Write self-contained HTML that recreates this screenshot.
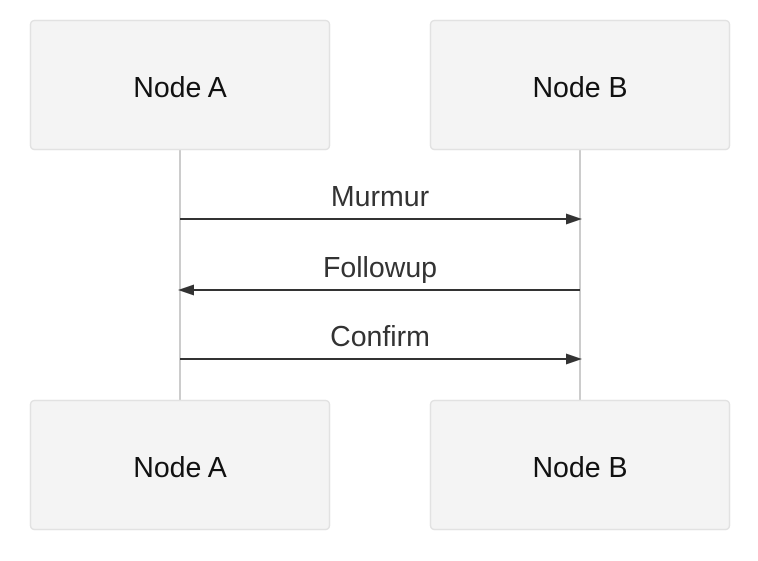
<!DOCTYPE html>
<html><head><meta charset="utf-8"><style>
html,body{margin:0;padding:0;background:#fff;}
</style></head><body>
<svg width="758" height="556" xmlns="http://www.w3.org/2000/svg" font-family="Liberation Sans, sans-serif">
<line x1="180" y1="150" x2="180" y2="400" stroke="#bbb" stroke-width="1.5"/>
<line x1="580" y1="150" x2="580" y2="400" stroke="#bbb" stroke-width="1.5"/>
<g fill="#f4f4f4" stroke="#e2e2e2" stroke-width="1.5">
<rect x="30.5" y="20.5" width="299" height="129" rx="4"/>
<rect x="430.5" y="20.5" width="299" height="129" rx="4"/>
<rect x="30.5" y="400.5" width="299" height="129" rx="4"/>
<rect x="430.5" y="400.5" width="299" height="129" rx="4"/>
</g>
<g font-size="28.5" fill="#111" text-anchor="middle">
<text x="180" y="97">Node A</text>
<text x="580" y="97">Node B</text>
<text x="180" y="477">Node A</text>
<text x="580" y="477">Node B</text>
</g>
<g font-size="28.5" fill="#333" text-anchor="middle">
<text x="380" y="206">Murmur</text>
<text x="380" y="277">Followup</text>
<text x="380" y="346">Confirm</text>
</g>
<g stroke="#333" stroke-width="2">
<line x1="180" y1="219" x2="568" y2="219"/>
<line x1="192" y1="290" x2="580" y2="290"/>
<line x1="180" y1="359" x2="568" y2="359"/>
</g>
<g fill="#333">
<polygon points="582,219 566,213.5 566,224.5"/>
<polygon points="178,290 194,284.5 194,295.5"/>
<polygon points="582,359 566,353.5 566,364.5"/>
</g>
</svg>
</body></html>
